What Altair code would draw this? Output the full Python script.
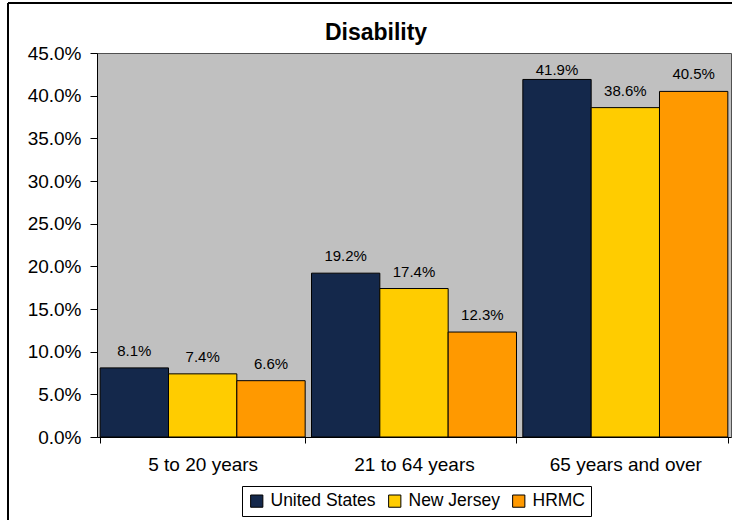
import altair as alt
import pandas as pd

# Disability rate by age group
categories = ["5 to 20 years", "21 to 64 years", "65 years and over"]
series = ["United States", "New Jersey", "HRMC"]
united_states = [0.081, 0.192, 0.419]
new_jersey = [0.074, 0.174, 0.386]
hrmc = [0.066, 0.123, 0.405]
colors = ["#14284B", "#FFCC00", "#FF9900"]

rows = []
for name, vals in zip(series, [united_states, new_jersey, hrmc]):
    for cat, v in zip(categories, vals):
        rows.append({"age": cat, "area": name, "rate": v})
df = pd.DataFrame(rows)

FONT = "Liberation Sans"
W, H = 634, 384
Y_MAX = 0.45

x = alt.X(
    "age:N",
    sort=categories,
    title=None,
    scale=alt.Scale(paddingInner=0.03, paddingOuter=0.015),
    axis=alt.Axis(
        labelAngle=0,
        labelFontSize=19,
        labelFont=FONT,
        labelColor="black",
        labelPadding=12,
        tickBand="extent",
        tickSize=6,
        tickColor="black",
        domainColor="black",
        labelBaseline="top",
    ),
)
xoff = alt.XOffset("area:N", sort=series, scale=alt.Scale(paddingInner=0, paddingOuter=0))
y_scale = alt.Scale(domain=[0, Y_MAX], nice=False)
y = alt.Y(
    "rate:Q",
    title=None,
    scale=y_scale,
    axis=alt.Axis(
        format=".1%",
        values=[i * 0.05 for i in range(10)],
        grid=False,
        labelFontSize=19,
        labelFont=FONT,
        labelColor="black",
        labelPadding=9,
        tickSize=7,
        tickColor="black",
        domainColor="black",
    ),
)
color = alt.Color(
    "area:N",
    sort=series,
    scale=alt.Scale(domain=series, range=colors),
    legend=alt.Legend(
        title=None,
        orient="none",
        legendX=145,
        legendY=433,
        direction="horizontal",
        symbolType="square",
        symbolSize=150,
        symbolStrokeColor="black",
        symbolStrokeWidth=1,
        symbolOpacity=1,
        labelFontSize=17.5,
        labelFont=FONT,
        labelColor="black",
        labelOffset=5,
        columnPadding=10,
        strokeColor="black",
        padding=6,
    ),
)

base = alt.Chart(df)
bars = base.mark_bar(stroke="black", strokeWidth=1).encode(
    x=x, xOffset=xoff, y=y, color=color
)

# value labels sit a fixed gap above each bar, but are kept inside the plot area
gap = 12 / H * Y_MAX
cap = Y_MAX * (H - 22) / H
labels = (
    base.transform_calculate(label_y=f"min(datum.rate + {gap}, {cap})")
    .mark_text(baseline="alphabetic", fontSize=15, font=FONT, color="black")
    .encode(
        x=alt.X("age:N", sort=categories),
        xOffset=alt.XOffset("area:N", sort=series),
        y=alt.Y("label_y:Q", scale=y_scale),
        text=alt.Text("rate:Q", format=".1%"),
    )
)

# outer frame of the chart
frame_left = base.mark_rule(color="black", strokeWidth=1).encode(
    x=alt.value(-89), y=alt.value(-50), y2=alt.value(H + 100)
)
frame_top = base.mark_rule(color="black", strokeWidth=1).encode(
    x=alt.value(-89), x2=alt.value(W + 10), y=alt.value(-50)
)

chart = (
    alt.layer(bars, labels, frame_left, frame_top)
    .properties(
        width=W,
        height=H,
        autosize=alt.AutoSizeParams(type="none"),
        padding={"left": 97, "top": 53, "right": 1, "bottom": 83},
        title=alt.Title(
            "Disability",
            font=FONT,
            fontSize=23,
            fontWeight="bold",
            color="black",
            anchor="middle",
            frame="group",
            dx=-38,
            dy=50,
            offset=8,
        ),
        background="white",
    )
    .configure_view(fill="#C0C0C0", stroke="#505050", strokeWidth=1)
)

chart.save("out.html", embed_options={"renderer": "svg", "actions": False})
